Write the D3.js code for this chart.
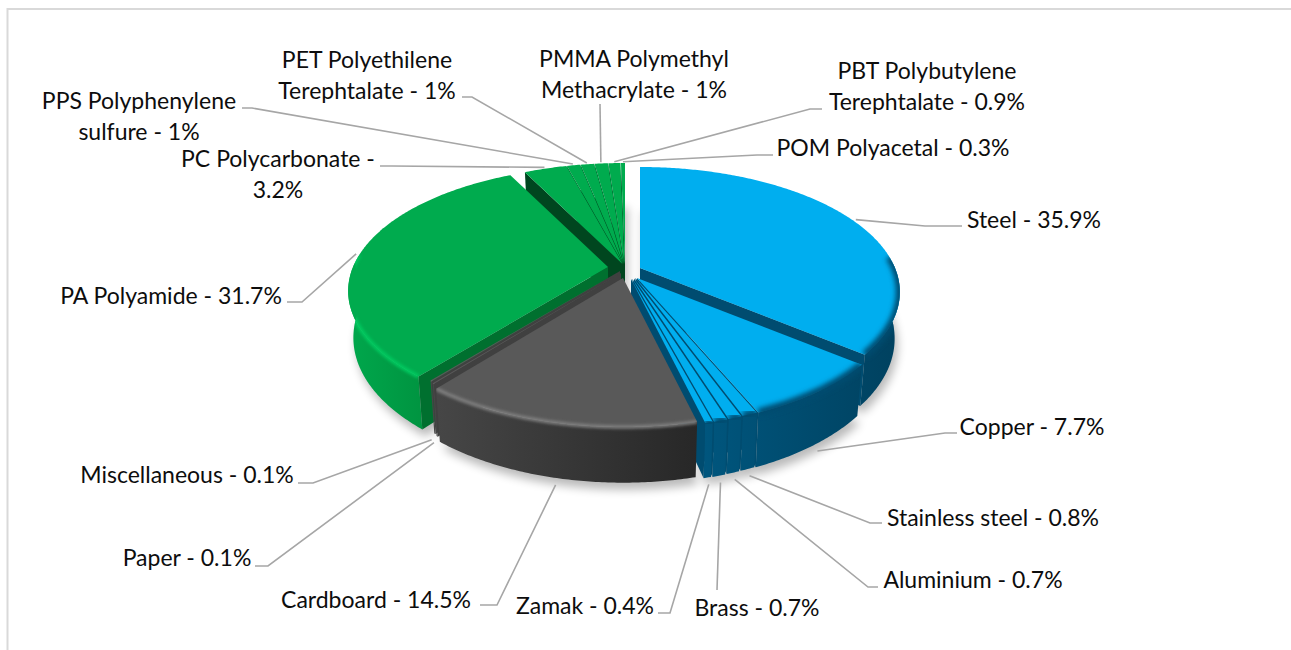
<!DOCTYPE html>
<html><head><meta charset="utf-8">
<script src="https://cdn.jsdelivr.net/npm/d3@7"></script>
<style>html,body{margin:0;padding:0;background:#fff;overflow:hidden}svg{display:block}
text{font-family:Lato,"Open Sans",sans-serif;font-size:23px;fill:#0d0d0d}</style>
</head><body><svg id="c" width="1291" height="650"></svg>
<script>
// ---- data ----
const categories = ["Steel","Copper","Stainless steel","Aluminium","Brass","Zamak","Cardboard","Paper","Miscellaneous","PA Polyamide","PC Polycarbonate","PPS Polyphenylene sulfure","PET Polyethilene Terephtalate","PMMA Polymethyl Methacrylate","PBT Polybutylene Terephtalate","POM Polyacetal"];
const values = [35.9,7.7,0.8,0.7,0.7,0.4,14.5,0.1,0.1,31.7,3.2,1,1,1,0.9,0.3];
const labelLines = [["Steel - 35.9%"],["Copper - 7.7%"],["Stainless steel - 0.8%"],["Aluminium - 0.7%"],["Brass - 0.7%"],["Zamak - 0.4%"],["Cardboard - 14.5%"],["Paper - 0.1%"],["Miscellaneous - 0.1%"],["PA Polyamide - 31.7%"],["PC Polycarbonate -","3.2%"],["PPS Polyphenylene","sulfure - 1%"],["PET Polyethilene","Terephtalate - 1%"],["PMMA Polymethyl","Methacrylate - 1%"],["PBT Polybutylene","Terephtalate - 0.9%"],["POM Polyacetal - 0.3%"]];
const families = ["blue","blue","blue","blue","blue","blue","gray","gray","gray","green","green","green","green","green","green","green"];

// ---- layout / style (not data) ----
const R = 255, Ry = 120.4, persp = 0.192, depth = 45, baseShrink = 0.98;
const apex = [[640,268],[637,278],[635.5,278],[634,278.5],[632.5,279],[631,279],[623,278],[621,273],[620,271],[608,267],
              [622.5,264],[623,264],[623.5,264],[624,264],[624.5,264],[625,264]];
const drawOrder = [15,14,13,12,11,10,9,0,1,2,3,4,5,8,7,6];
const style = {
  blue:{face:"#00AEEF",cut:"#004C70",wallA:"#00567E",wallB:"#00415F",bevel:"#004C70",bevelW:8,blur:"sb"},
  gray:{face:"#595959",cut:"#404040",wallA:"#474747",wallB:"#272727",bevel:"#808080",bevelW:3.5,blur:"sf"},
  green:{face:"#00AB4E",cut:"#00461F",wallA:"#00A74C",wallB:"#00923F",bevel:"#00C95F",bevelW:4,blur:"sf"}
};
const paCut = "#00702F";
// label anchor x, first baseline y, elbow x, elbow y, leader end x, leader end y
const labelPos = [
 [1034,228, 925,226, 962,226],
 [1032,435, 945,433, 957,433],
 [993,526, 870,523, 882,523],
 [973,588, 868,587, 878,587],
 [757,616, 717,590, 717,590],
 [585,614, 670,613, 658,613],
 [376,608, 497,605, 480,605],
 [187,566, 268,566, 255,566],
 [187,483, 313,483, 298,483],
 [171,304, 302,302, 287,302],
 [278,167, 392,166, 380,166],
 [139,109, 252,108, 242,108],
 [367,68, 472,97, 462,97],
 [634,67, 600,104, 600,104],
 [927,79, 810,109, 822,109],
 [893,156, 757,155, 773,155]
];

const svg = d3.select("#c");
const defs = svg.append("defs");
const arcs = d3.pie().sort(null).value(d=>d)(values);
const line = d3.line();

function P(i,theta,r,bottom){
  const x = Math.sin(theta)*r, y = -Math.cos(theta)*r, w = 1-persp*y;
  const [ax,ay] = apex[i];
  return bottom ? [ax+baseShrink*R*x/w, ay+Ry*y/w+depth/w] : [ax+R*x/w, ay+Ry*y/w];
}
function rim(a0,a1){const n=Math.max(2,Math.ceil((a1-a0)/0.01));return d3.range(n+1).map(k=>a0+(a1-a0)*k/n);}

// frame
svg.append("path").attr("d",line([[7.5,650],[7.5,9],[1291,9]])).attr("fill","none").attr("stroke","#D9D9D9").attr("stroke-width",2);

// filters and gradients
[["sh",5],["sf",1.8],["sb",2.8]].forEach(([id,sd])=>{
  defs.append("filter").attr("id",id).attr("x","-20%").attr("y","-20%").attr("width","140%").attr("height","140%")
    .append("feGaussianBlur").attr("stdDeviation",sd);
});
Object.entries(style).forEach(([k,s])=>{
  const g = defs.append("linearGradient").attr("id","w"+k).attr("gradientUnits","userSpaceOnUse")
    .attr("x1",k==="green"?350:k==="gray"?430:700).attr("x2",k==="green"?430:k==="gray"?700:900).attr("y1",0).attr("y2",0);
  g.append("stop").attr("offset",0).attr("stop-color",s.wallA);
  g.append("stop").attr("offset",1).attr("stop-color",s.wallB);
});

// ground shadow
const shadow = svg.append("g").attr("filter","url(#sh)").attr("opacity",0.27).attr("transform","translate(3,7)");
arcs.forEach((a,i)=>{
  const pts=[P(i,0,0,true),...rim(a.startAngle,a.endAngle).map(t=>P(i,t,1,true))];
  shadow.append("path").attr("d",line(pts)+"Z").attr("fill","#000");
});

// slices
const gs = svg.append("g");
const cutWall=(g,i,t,c)=>g.append("path").attr("d",line([P(i,t,0,false),P(i,t,1,false),P(i,t,1,true),P(i,t,0,true)])+"Z").attr("fill",c);
drawOrder.forEach(i=>{
  const a=arcs[i], s=style[families[i]], g=gs.append("g");
  const ts=rim(a.startAngle,a.endAngle);
  const topRim=ts.map(t=>P(i,t,1,false));
  const frontTs=ts.filter(t=>-Math.cos(t)>-0.05);
  const wallTop=frontTs.map(t=>P(i,t,1,false)), wallBot=frontTs.map(t=>P(i,t,1,true));
  const wall=[...wallTop,...wallBot.slice().reverse()];
  const cut=(i===9)?paCut:s.cut;
  if(wall.length>2) g.append("path").attr("d",line(wall)+"Z").attr("fill","url(#w"+families[i]+")");
  // a cut face is only seen when it turns toward the viewer
  if(a.startAngle>Math.PI) cutWall(g,i,a.startAngle,cut);
  if(a.endAngle<Math.PI) cutWall(g,i,a.endAngle,cut);
  const face=[P(i,0,0,false),...topRim];
  g.append("path").attr("d",line(face)+"Z").attr("fill",s.face);
  const cid="cl"+i;
  const cp=defs.append("clipPath").attr("id",cid);
  if(wall.length>2) cp.append("path").attr("d",line(wall)+"Z");
  cp.append("path").attr("d",line(face)+"Z");
  const front=ts.filter(t=>-Math.cos(t)>-0.1).map(t=>P(i,t,1,false));
  if(front.length>1){
    g.append("g").attr("clip-path","url(#"+cid+")").append("path").attr("d",line(front)).attr("fill","none")
      .attr("stroke",s.bevel).attr("stroke-width",s.bevelW).attr("filter","url(#"+s.blur+")");
  }
});

// leaders and labels
arcs.forEach((a,i)=>{
  const mid=(a.startAngle+a.endAngle)/2, front=-Math.cos(mid)>0.1;
  const p=P(i,mid,1.015,front);
  const start=front?[p[0],p[1]+4]:p;
  const [lx,ly,ex,ey,fx,fy]=labelPos[i];
  svg.append("path").attr("d",line([start,[ex,ey],[fx,fy]])).attr("fill","none").attr("stroke","#A6A6A6").attr("stroke-width",1.6);
  const t=svg.append("text").attr("text-anchor","middle").attr("x",lx).attr("y",ly);
  labelLines[i].forEach((l,k)=>t.append("tspan").attr("x",lx).attr("dy",k?31:0).text(l));
});
</script></body></html>
